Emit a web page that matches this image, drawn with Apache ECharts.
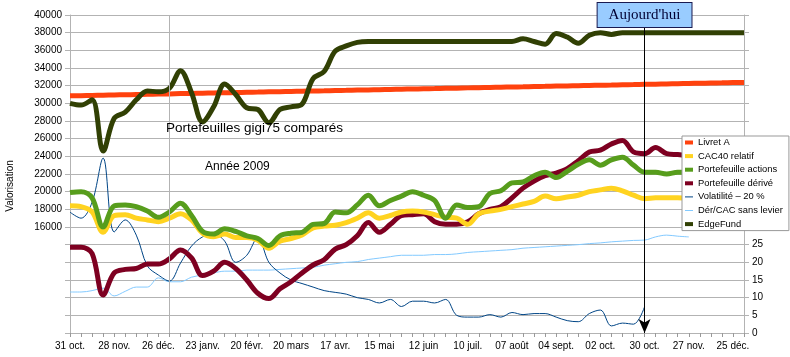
<!DOCTYPE html>
<html><head><meta charset="utf-8">
<script src="https://cdn.jsdelivr.net/npm/echarts@6/dist/echarts.min.js"></script>
<style>html,body{margin:0;padding:0;background:#fff}#c{width:790px;height:357px}</style>
</head><body><div id="c"></div>
<script>
const categories = ["31 oct.","07 nov.","14 nov.","21 nov.","28 nov.","05 déc.","12 déc.","19 déc.","26 déc.","02 janv.","09 janv.","16 janv.","23 janv.","30 janv.","06 févr.","13 févr.","20 févr.","27 févr.","06 mars","13 mars","20 mars","27 mars","03 avr.","10 avr.","17 avr.","24 avr.","01 mai","08 mai","15 mai","22 mai","29 mai","05 juin","12 juin","19 juin","26 juin","03 juil.","10 juil.","17 juil.","24 juil.","31 juil.","07 août","14 août","21 août","28 août","04 sept.","11 sept.","18 sept.","25 sept.","02 oct.","09 oct.","16 oct.","23 oct.","30 oct.","06 nov.","13 nov.","20 nov.","27 nov.","04 déc.","11 déc.","18 déc.","25 déc.","01 janv."];
const leftTickLabelsFrom = 16000;
const rightTickLabelsUpTo = 25;
const todayIndex = 52;
const yearBreak = 8.857;

const livretA = [30850,30870,30900,30920,30950,30970,31000,31020,31050,31070,31100,31120,31150,31170,31200,31220,31250,31270,31300,31320,31350,31370,31400,31420,31450,31470,31500,31520,31550,31570,31600,31620,31650,31670,31700,31720,31750,31770,31800,31820,31850,31870,31900,31920,31950,31970,32000,32020,32050,32070,32100,32120,32150,32170,32200,32220,32250,32270,32300,32320,32350,32370];
const cac40 = [18400,18300,17700,15400,17300,17400,17000,16800,16600,17000,17500,16800,15300,14900,15200,14800,14800,14500,13600,14400,14700,15100,15900,16100,16200,16500,17000,17600,17000,17300,17700,17800,17700,17400,17100,17000,16300,17500,17800,18000,18300,18600,18900,19500,19200,19400,19600,20000,20200,20400,20100,19600,19200,19300,19300,19300,19200];
const actions = [19900,20000,19300,16000,18400,18500,18300,17800,17100,17700,18700,17300,15500,15200,15800,15500,15000,14700,13900,15000,15300,15400,16300,16400,17700,17600,18500,19600,18400,19000,19500,20000,19600,19000,17000,18500,18200,18300,19800,20100,21000,21100,21800,22200,21600,22300,23100,23600,23000,23600,23900,23000,22200,22200,22000,22200,22200];
const derive = [13700,13700,13000,8300,10800,11200,11300,11800,11800,12400,13400,12500,10500,11000,12000,11300,10000,8500,7900,9000,9800,10800,11700,12300,13500,14000,15000,16500,15400,16300,17300,17400,17500,16600,16300,16300,16600,17500,18000,18300,19300,20400,21200,21800,22100,22600,23500,24500,24700,25400,25800,24500,24300,25000,24300,24200,24100];
const volatilite = [34.2,32.5,37,49.5,28.6,32,27.7,19,16.4,14.7,19.8,24.6,27.2,28,26,20,22,27,20,17,15,14,13,12,11.5,11,10,9.5,8.5,9.5,7.5,9,9,8.5,9.5,5,4.5,4.5,5.2,4.5,5.8,5.2,5.5,5.5,4.5,3.5,3.2,5.5,6.5,2,2.8,2.5,7.4];
const derCac = [11.6,11.6,12.0,12.7,10.5,11.8,13,13,15.6,14.5,14.5,15.8,16.4,17,17.5,17.5,17.8,17.8,17.8,18,18.2,18.4,18.6,19.2,19.6,20,20.2,20.8,21.2,21.6,22,22,22,22.2,22.2,22.4,22.8,23,23.2,23.4,23.6,24,24.2,24.4,24.6,24.8,25,25.3,25.5,25.8,26,26.2,26.3,27.2,27.7,27.4,27.2];
const edgeFund = [30000,29800,30400,24600,28300,29000,30400,31400,31300,31700,33700,31200,27900,29600,32200,31000,29500,29300,27800,29300,29600,29900,32800,33600,35900,36500,36900,37000,37000,37000,37000,37000,37000,37000,37000,37000,37000,37000,37000,37000,37000,37300,37000,36700,37900,37500,36800,37700,38000,37800,38000,38000,38000,38000,38000,38000,38000,38000,38000,38000,38000,38000];

const FONT = 'Liberation Sans, Arial, sans-serif';
const GRID = '#b3b3b3';
const THIN_ICON = 'path://M0,0L8,0L8,1L0,1Z';

function line(name, data, color, width, yAxisIndex, extra) {
  return Object.assign({
    name, type: 'line', data, yAxisIndex, smooth: 0.35, symbol: 'none',
    lineStyle: { width, color }, itemStyle: { color }, emphasis: { disabled: true }
  }, extra || {});
}

const chart = echarts.init(document.getElementById('c'), null, { renderer: 'canvas' });
chart.setOption({
  animation: false,
  backgroundColor: '#fff',
  grid: { left: 70, right: 46, top: 15, bottom: 24, containLabel: false },
  title: [
    { text: 'Portefeuilles gigi75 comparés', left: 166, top: 121, padding: 0,
      textStyle: { fontSize: 13.5, fontWeight: 'normal', fontFamily: FONT, color: '#000' } },
    { text: 'Année 2009', left: 205, top: 161, padding: 0,
      textStyle: { fontSize: 12, fontWeight: 'normal', fontFamily: FONT, color: '#000' } }
  ],
  graphic: [
    { type: 'text', x: 10, y: 186, rotation: Math.PI / 2,
      style: { text: 'Valorisation', font: '10px ' + FONT, fill: '#000', align: 'center', verticalAlign: 'middle' } }
  ],
  legend: {
    orient: 'vertical', left: 682, top: 136, itemWidth: 8, itemHeight: 4, itemGap: 4.6,
    symbolKeepAspect: true,
    padding: [2, 6, 2, 3], backgroundColor: '#fff', borderColor: '#999', borderWidth: 1,
    textStyle: { fontSize: 9.4, fontFamily: FONT, color: '#000' },
    data: [
      { name: 'Livret A', icon: 'rect' },
      { name: 'CAC40 relatif', icon: 'rect' },
      { name: 'Portefeuille actions', icon: 'rect' },
      { name: 'Portefeuille dérivé', icon: 'rect' },
      { name: 'Volatilité – 20 %', icon: THIN_ICON },
      { name: 'Dér/CAC sans levier', icon: THIN_ICON },
      { name: 'EdgeFund', icon: 'rect' }
    ]
  },
  xAxis: {
    type: 'category', data: categories, boundaryGap: false,
    axisLine: { show: true, lineStyle: { color: GRID } },
    axisTick: { show: true, interval: 0, length: 4, lineStyle: { color: '#999' } },
    axisLabel: { interval: 3, fontSize: 10, fontFamily: FONT, color: '#000', margin: 8 },
    splitLine: { show: false }
  },
  yAxis: [
    { type: 'value', min: 4000, max: 40000, interval: 2000, position: 'left',
      axisLine: { show: true, lineStyle: { color: GRID } },
      axisTick: { show: true, length: 5, lineStyle: { color: GRID } },
      axisLabel: { fontSize: 10, fontFamily: FONT, color: '#000', margin: 8,
        formatter: v => v >= leftTickLabelsFrom ? String(v) : '' },
      splitLine: { show: true, lineStyle: { color: GRID, width: 1 } } },
    { type: 'value', min: 0, max: 90, interval: 5, position: 'right',
      axisLine: { show: true, lineStyle: { color: GRID } },
      axisTick: { show: true, length: 5, lineStyle: { color: GRID } },
      axisLabel: { fontSize: 10, fontFamily: FONT, color: '#000', margin: 8,
        formatter: v => v <= rightTickLabelsUpTo ? String(v) : '' },
      splitLine: { show: false } }
  ],
  series: [
    line('Dér/CAC sans levier', derCac, '#83caff', 1, 1),
    line('Volatilité – 20 %', volatilite, '#004586', 1, 1),
    line('Portefeuille dérivé', derive, '#7e0021', 5, 0),
    line('CAC40 relatif', cac40, '#ffd320', 5, 0),
    line('Portefeuille actions', actions, '#579d1c', 5, 0),
    line('Livret A', livretA, '#ff420e', 5, 0, {
      markLine: { silent: true, symbol: 'none', animation: false,
        lineStyle: { color: GRID, width: 1, type: 'solid' }, label: { show: false },
        data: [{ xAxis: yearBreak }] }
    }),
    line('EdgeFund', edgeFund, '#314004', 5, 0, {
      markLine: { silent: true, animation: false, symbol: ['arrow', 'none'], symbolSize: [9, 14],
        lineStyle: { color: '#000', width: 1, type: 'solid' },
        label: { show: true, position: 'end', distance: 0, formatter: "Aujourd'hui",
          backgroundColor: '#99ccff', borderColor: '#1a1a50', borderWidth: 1,
          padding: [5, 11, 4, 11], fontFamily: 'Liberation Serif, DejaVu Serif, serif', fontSize: 15, color: '#000033' },
        data: [[{ coord: [todayIndex, 4000] }, { coord: [todayIndex, 38650] }]] }
    })
  ]
});
</script>
</body></html>
